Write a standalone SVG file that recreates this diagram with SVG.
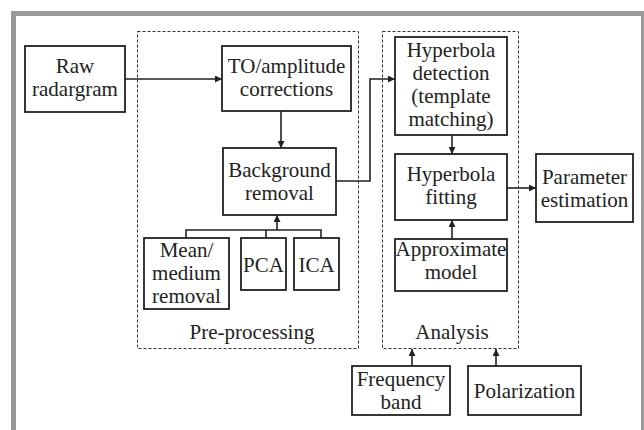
<svg xmlns="http://www.w3.org/2000/svg" width="644" height="430" viewBox="0 0 644 430">
<defs>
<marker id="ah" viewBox="0 0 10 10" refX="10" refY="5" markerWidth="9" markerHeight="7" markerUnits="userSpaceOnUse" orient="auto">
<path d="M0,0 L10,5 L0,10 z" fill="#222"/>
</marker>
<style>
.box{fill:#fff;stroke:#222;stroke-width:1.8}
.dash{fill:none;stroke:#333;stroke-width:1;stroke-dasharray:3,2}
.ln{fill:none;stroke:#222;stroke-width:1.6}
.arr{fill:none;stroke:#222;stroke-width:1.6;marker-end:url(#ah)}
.t{font-size:21px;fill:#222;text-anchor:middle}
</style>
</defs>
<rect x="0" y="0" width="644" height="430" fill="#fff"/>
<rect x="13.5" y="13.5" width="630" height="430" fill="none" stroke="#999" stroke-width="5"/>
<g font-family="Liberation Serif, DejaVu Serif, serif">
<g id="preprocessing">
<rect class="dash" x="137.5" y="31.5" width="221" height="317"/>
<text class="t" x="252" y="339">Pre-processing</text>
</g>
<g id="analysis">
<rect class="dash" x="382.5" y="31.5" width="136" height="317"/>
<text class="t" x="452" y="339">Analysis</text>
</g>
<g id="connectors">
<line class="arr" x1="125" y1="79" x2="222" y2="79"/>
<line class="arr" x1="281" y1="111" x2="281" y2="148"/>
<polyline class="ln" points="186,238 186,230 321,230 321,238"/>
<line class="ln" x1="266" y1="230" x2="266" y2="238"/>
<line class="arr" x1="277" y1="230" x2="277" y2="215"/>
<polyline class="arr" points="336,181 370,181 370,79 395,79"/>
<line class="arr" x1="452" y1="135" x2="452" y2="154"/>
<line class="arr" x1="452" y1="239" x2="452" y2="220"/>
<line class="arr" x1="507" y1="188" x2="536" y2="188"/>
<line class="arr" x1="412" y1="366" x2="412" y2="349"/>
<line class="arr" x1="496" y1="366" x2="496" y2="349"/>
</g>
<g id="raw">
<rect class="box" x="25" y="46" width="100" height="66"/>
<text class="t" x="75" y="73">Raw</text>
<text class="t" x="75" y="96">radargram</text>
</g>
<g id="to">
<rect class="box" x="222" y="46" width="129" height="65"/>
<text class="t" x="286.5" y="73">TO/amplitude</text>
<text class="t" x="286.5" y="96">corrections</text>
</g>
<g id="background">
<rect class="box" x="223" y="148" width="113" height="67"/>
<text class="t" x="279.5" y="177">Background</text>
<text class="t" x="279.5" y="200">removal</text>
</g>
<g id="mean">
<rect class="box" x="144" y="238" width="85" height="71"/>
<text class="t" x="186.5" y="257">Mean/</text>
<text class="t" x="186.5" y="280">medium</text>
<text class="t" x="186.5" y="303">removal</text>
</g>
<g id="pca">
<rect class="box" x="241" y="238" width="45" height="52"/>
<text class="t" x="263.5" y="272">PCA</text>
</g>
<g id="ica">
<rect class="box" x="294" y="238" width="45" height="52"/>
<text class="t" x="316.5" y="272">ICA</text>
</g>
<g id="detection">
<rect class="box" x="395" y="37" width="112" height="98"/>
<text class="t" x="451" y="57">Hyperbola</text>
<text class="t" x="451" y="80">detection</text>
<text class="t" x="451" y="103">(template</text>
<text class="t" x="451" y="126">matching)</text>
</g>
<g id="fitting">
<rect class="box" x="395" y="154" width="112" height="66"/>
<text class="t" x="451" y="181">Hyperbola</text>
<text class="t" x="451" y="204">fitting</text>
</g>
<g id="model">
<rect class="box" x="395" y="239" width="112" height="52"/>
<text class="t" x="451" y="256">Approximate</text>
<text class="t" x="451" y="279">model</text>
</g>
<g id="parameter">
<rect class="box" x="536" y="154" width="97" height="68"/>
<text class="t" x="584.5" y="184">Parameter</text>
<text class="t" x="584.5" y="207">estimation</text>
</g>
<g id="frequency">
<rect class="box" x="352" y="366" width="98" height="49"/>
<text class="t" x="401" y="386">Frequency</text>
<text class="t" x="401" y="409">band</text>
</g>
<g id="polarization">
<rect class="box" x="468" y="366" width="113" height="49"/>
<text class="t" x="524.5" y="398">Polarization</text>
</g>
</g>
</svg>
